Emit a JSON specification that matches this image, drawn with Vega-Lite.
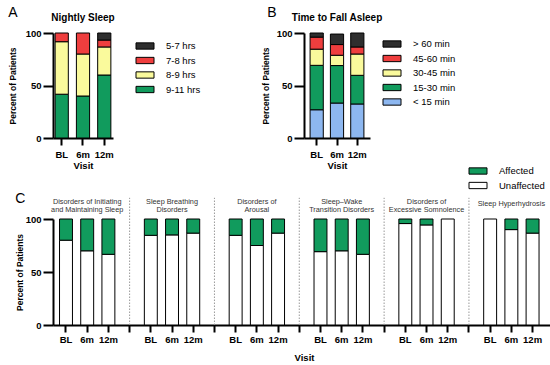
{
  "$schema": "https://vega.github.io/schema/vega-lite/v6.json",
  "padding": {"left": 8, "top": 5, "right": 0, "bottom": 0},
  "spacing": -4,
  "resolve": {"scale": {"color": "independent"}, "legend": {"color": "independent"}},
  "config": {
    "font": "Liberation Sans",
    "view": {"stroke": null},
    "axis": {"domainColor": "black", "domainWidth": 2, "tickColor": "black", "tickWidth": 2, "tickSize": 7, "labelColor": "black", "labelFont": "Liberation Sans", "labelFontWeight": "bold", "labelFontSize": 9.5, "labelPadding": 2, "titleColor": "black", "titleFont": "Liberation Sans", "titleFontWeight": "bold", "titleFontSize": 9.5, "grid": false},
    "axisY": {"tickSize": 10},
    "legend": {"symbolType": "M-2,-0.7H2V0.7H-2Z", "symbolSize": 81, "symbolStrokeColor": "black", "symbolStrokeWidth": 1, "symbolOpacity": 1, "labelFontSize": 9.5, "labelFont": "Liberation Sans", "labelColor": "black", "labelOffset": 16, "rowPadding": 2.5},
    "title": {"font": "Liberation Sans", "fontWeight": "normal", "fontSize": 14, "color": "black", "anchor": "start", "frame": "bounds"}
  },
  "datasets": {
    "sleep": [
      {"visit": "BL", "cat": "9-11 hrs", "pct": 41.7},
      {"visit": "BL", "cat": "8-9 hrs", "pct": 50},
      {"visit": "BL", "cat": "7-8 hrs", "pct": 8.3},
      {"visit": "6m", "cat": "9-11 hrs", "pct": 40},
      {"visit": "6m", "cat": "8-9 hrs", "pct": 40},
      {"visit": "6m", "cat": "7-8 hrs", "pct": 20},
      {"visit": "12m", "cat": "9-11 hrs", "pct": 60},
      {"visit": "12m", "cat": "8-9 hrs", "pct": 26.7},
      {"visit": "12m", "cat": "7-8 hrs", "pct": 6.6},
      {"visit": "12m", "cat": "5-7 hrs", "pct": 6.7}
    ],
    "fall": [
      {"visit": "BL", "cat": "< 15 min", "pct": 26.9},
      {"visit": "BL", "cat": "15-30 min", "pct": 42.3},
      {"visit": "BL", "cat": "30-45 min", "pct": 15.4},
      {"visit": "BL", "cat": "45-60 min", "pct": 11.5},
      {"visit": "BL", "cat": "> 60 min", "pct": 3.9},
      {"visit": "6m", "cat": "< 15 min", "pct": 33.3},
      {"visit": "6m", "cat": "15-30 min", "pct": 35.7},
      {"visit": "6m", "cat": "30-45 min", "pct": 9.8},
      {"visit": "6m", "cat": "45-60 min", "pct": 10.2},
      {"visit": "6m", "cat": "> 60 min", "pct": 10},
      {"visit": "12m", "cat": "< 15 min", "pct": 32.4},
      {"visit": "12m", "cat": "15-30 min", "pct": 27.3},
      {"visit": "12m", "cat": "30-45 min", "pct": 20.3},
      {"visit": "12m", "cat": "45-60 min", "pct": 6.7},
      {"visit": "12m", "cat": "> 60 min", "pct": 13.3}
    ],
    "dis": [
      {"key": "1-BL", "status": "Unaffected", "pct": 80}, {"key": "1-BL", "status": "Affected", "pct": 20},
      {"key": "1-6m", "status": "Unaffected", "pct": 70}, {"key": "1-6m", "status": "Affected", "pct": 30},
      {"key": "1-12m", "status": "Unaffected", "pct": 66.7}, {"key": "1-12m", "status": "Affected", "pct": 33.3},
      {"key": "2-BL", "status": "Unaffected", "pct": 84.6}, {"key": "2-BL", "status": "Affected", "pct": 15.4},
      {"key": "2-6m", "status": "Unaffected", "pct": 85}, {"key": "2-6m", "status": "Affected", "pct": 15},
      {"key": "2-12m", "status": "Unaffected", "pct": 86.7}, {"key": "2-12m", "status": "Affected", "pct": 13.3},
      {"key": "3-BL", "status": "Unaffected", "pct": 84.6}, {"key": "3-BL", "status": "Affected", "pct": 15.4},
      {"key": "3-6m", "status": "Unaffected", "pct": 75}, {"key": "3-6m", "status": "Affected", "pct": 25},
      {"key": "3-12m", "status": "Unaffected", "pct": 86.7}, {"key": "3-12m", "status": "Affected", "pct": 13.3},
      {"key": "4-BL", "status": "Unaffected", "pct": 69.2}, {"key": "4-BL", "status": "Affected", "pct": 30.8},
      {"key": "4-6m", "status": "Unaffected", "pct": 70}, {"key": "4-6m", "status": "Affected", "pct": 30},
      {"key": "4-12m", "status": "Unaffected", "pct": 66.7}, {"key": "4-12m", "status": "Affected", "pct": 33.3},
      {"key": "5-BL", "status": "Unaffected", "pct": 95.7}, {"key": "5-BL", "status": "Affected", "pct": 4.3},
      {"key": "5-6m", "status": "Unaffected", "pct": 94.4}, {"key": "5-6m", "status": "Affected", "pct": 5.6},
      {"key": "5-12m", "status": "Unaffected", "pct": 100},
      {"key": "6-BL", "status": "Unaffected", "pct": 100},
      {"key": "6-6m", "status": "Unaffected", "pct": 90}, {"key": "6-6m", "status": "Affected", "pct": 10},
      {"key": "6-12m", "status": "Unaffected", "pct": 86.7}, {"key": "6-12m", "status": "Affected", "pct": 13.3}
    ],
    "seps": [{"key": "s1"}, {"key": "s2"}, {"key": "s3"}, {"key": "s4"}, {"key": "s5"}],
    "groups": [
      {"key": "1-6m", "t": "Disorders of Initiating\nand Maintaining Sleep"},
      {"key": "2-6m", "t": "Sleep Breathing\nDisorders"},
      {"key": "3-6m", "t": "Disorders of\nArousal"},
      {"key": "4-6m", "t": "Sleep–Wake\nTransition Disorders"},
      {"key": "5-6m", "t": "Disorders of\nExcessive Somnolence"},
      {"key": "6-6m", "t": "Sleep Hyperhydrosis"}
    ]
  },
  "vconcat": [
    {
      "spacing": 52,
      "resolve": {"scale": {"color": "independent"}, "legend": {"color": "independent"}},
      "hconcat": [
        {
          "title": {"text": "A", "offset": -7},
          "width": 60,
          "height": 105,
          "layer": [
            {
              "data": {"name": "sleep"},
              "transform": [{"calculate": "indexof(['9-11 hrs','8-9 hrs','7-8 hrs','5-7 hrs'], datum.cat)", "as": "o"}],
              "mark": {"type": "bar", "stroke": "black", "strokeWidth": 1},
              "encoding": {
                "x": {"field": "visit", "type": "nominal", "sort": ["BL", "6m", "12m"], "title": "Visit", "scale": {"paddingInner": 0.38, "paddingOuter": 0.1}, "axis": {"labelAngle": 0, "titlePadding": 2, "labelPadding": 4}},
                "y": {"field": "pct", "type": "quantitative", "stack": "zero", "title": "Percent of Patients", "scale": {"domain": [0, 100]}, "axis": {"values": [0, 50, 100], "titlePadding": 8, "titleFontSize": 8.5}},
                "color": {"field": "cat", "type": "nominal", "scale": {"domain": ["5-7 hrs", "7-8 hrs", "8-9 hrs", "9-11 hrs"], "range": ["#2e2e2e", "#ef3e3e", "#fafa9c", "#119b5d"]}, "legend": {"title": null, "offset": 19, "padding": 8}},
                "order": {"field": "o", "type": "quantitative"}
              }
            },
            {
              "data": {"values": [{"t": "Nightly Sleep"}]},
              "mark": {"type": "text", "fontWeight": "bold", "fontSize": 10, "dy": -15.5, "baseline": "middle", "color": "black"},
              "encoding": {"y": {"datum": 100}, "text": {"field": "t"}}
            }
          ]
        },
        {
          "title": {"text": "B", "offset": -7, "dx": 6},
          "width": 66,
          "height": 105,
          "layer": [
            {
              "data": {"name": "fall"},
              "transform": [{"calculate": "indexof(['< 15 min','15-30 min','30-45 min','45-60 min','> 60 min'], datum.cat)", "as": "o"}],
              "mark": {"type": "bar", "stroke": "black", "strokeWidth": 1},
              "encoding": {
                "x": {"field": "visit", "type": "nominal", "sort": ["BL", "6m", "12m"], "title": "Visit", "scale": {"paddingInner": 0.35, "paddingOuter": 0.3}, "axis": {"labelAngle": 0, "titlePadding": 2, "labelPadding": 4}},
                "y": {"field": "pct", "type": "quantitative", "stack": "zero", "title": "Percent of Patients", "scale": {"domain": [0, 100]}, "axis": {"values": [0, 50, 100], "titlePadding": 6, "titleFontSize": 8.5}},
                "color": {"field": "cat", "type": "nominal", "scale": {"domain": ["> 60 min", "45-60 min", "30-45 min", "15-30 min", "< 15 min"], "range": ["#2e2e2e", "#ef3e3e", "#fafa9c", "#119b5d", "#8db7f0"]}, "legend": {"title": null, "offset": 11, "padding": 6}},
                "order": {"field": "o", "type": "quantitative"}
              }
            },
            {
              "data": {"values": [{"t": "Time to Fall Asleep"}]},
              "mark": {"type": "text", "fontWeight": "bold", "fontSize": 10, "dy": -15.5, "baseline": "middle", "color": "black"},
              "encoding": {"y": {"datum": 100}, "text": {"field": "t"}}
            }
          ]
        }
      ]
    },
    {
      "title": {"text": "C", "offset": -40},
      "width": 502,
      "height": 106,
      "layer": [
        {
          "data": {"name": "dis"},
          "transform": [{"calculate": "datum.status == 'Unaffected' ? 0 : 1", "as": "o"}],
          "mark": {"type": "bar", "stroke": "black", "strokeWidth": 1},
          "encoding": {
            "x": {"field": "key", "type": "nominal", "title": "Visit",
                  "scale": {"domain": ["1-BL", "1-6m", "1-12m", "s1", "2-BL", "2-6m", "2-12m", "s2", "3-BL", "3-6m", "3-12m", "s3", "4-BL", "4-6m", "4-12m", "s4", "5-BL", "5-6m", "5-12m", "s5", "6-BL", "6-6m", "6-12m"], "paddingInner": 0.39, "paddingOuter": 0.53, "align": 0.29},
                  "axis": {"labelAngle": 0, "titlePadding": 9, "labelExpr": "indexof(datum.value, '-') > 0 ? split(datum.value, '-')[1] : ''"}},
            "y": {"field": "pct", "type": "quantitative", "stack": "zero", "title": "Percent of Patients", "scale": {"domain": [0, 100]}, "axis": {"values": [0, 50, 100], "titlePadding": 1, "titleFontSize": 8.5}},
            "color": {"field": "status", "type": "nominal", "scale": {"domain": ["Affected", "Unaffected"], "range": ["#119b5d", "#ffffff"]}, "legend": {"title": null, "orient": "none", "legendX": 420, "legendY": -53, "padding": 0}},
            "order": {"field": "o", "type": "quantitative"}
          }
        },
        {
          "data": {"name": "seps"},
          "mark": {"type": "rule", "color": "#999999", "strokeDash": [1.5, 1.5], "strokeWidth": 1},
          "encoding": {"x": {"field": "key", "type": "nominal"}, "y": {"datum": 0}, "y2": {"datum": 120}}
        },
        {
          "data": {"name": "groups"},
          "transform": [{"filter": "datum.key != '6-6m'"}],
          "mark": {"type": "text", "fontSize": 7.3, "fill": "#333333", "lineBreak": "\n", "lineHeight": 8, "dy": -17, "baseline": "middle"},
          "encoding": {"x": {"field": "key", "type": "nominal"}, "y": {"datum": 100}, "text": {"field": "t"}}
        },
        {
          "data": {"name": "groups"},
          "transform": [{"filter": "datum.key == '6-6m'"}],
          "mark": {"type": "text", "fontSize": 7.3, "fill": "#333333", "dy": -15, "baseline": "middle"},
          "encoding": {"x": {"field": "key", "type": "nominal"}, "y": {"datum": 100}, "text": {"field": "t"}}
        }
      ]
    }
  ]
}
